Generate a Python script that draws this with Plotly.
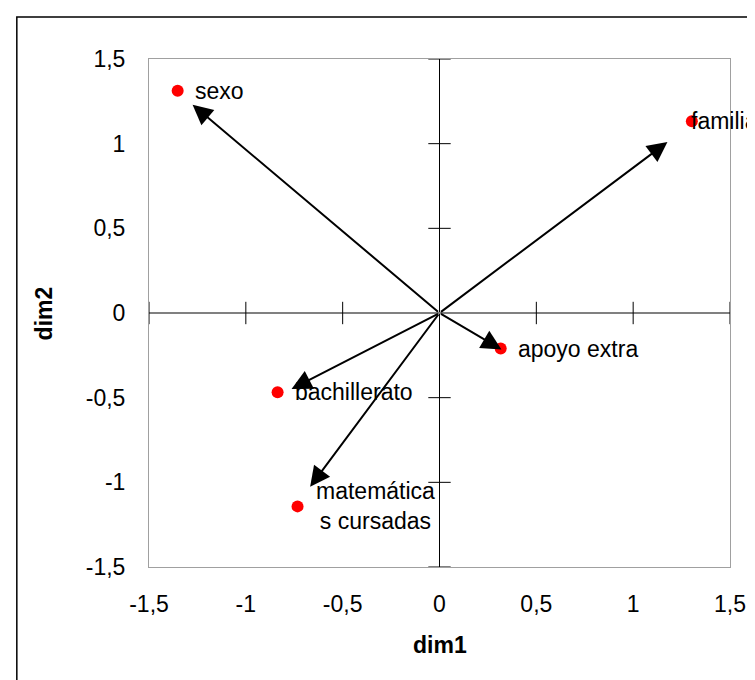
import plotly.graph_objects as go

# ---- data ----
labels = ["sexo", "familia", "apoyo extra", "bachillerato", "matemática<br>s cursadas"]
point_x = [-1.352, 1.303, 0.316, -0.836, -0.733]
point_y = [1.313, 1.132, -0.21, -0.468, -1.142]
arrow_x = [-1.275, 1.177, 0.32, -0.764, -0.668]
arrow_y = [1.23, 1.01, -0.215, -0.449, -1.026]

tick_vals = [-1.5, -1, -0.5, 0, 0.5, 1, 1.5]
tick_text = ["-1,5", "-1", "-0,5", "0", "0,5", "1", "1,5"]

label_shift = [15, -3, 15, 15, 16]

FONT = "Liberation Sans, Arial, sans-serif"
FS = 23

fig = go.Figure()

# cross tick marks on the axes through zero
nz = [v for v in tick_vals if v != 0]
fig.add_trace(go.Scatter(
    x=nz, y=[0] * len(nz), mode="markers", hoverinfo="skip",
    marker=dict(symbol="line-ns", size=16, line=dict(width=1, color="#000000")),
    cliponaxis=False, showlegend=False))
fig.add_trace(go.Scatter(
    x=[0] * len(nz), y=nz, mode="markers", hoverinfo="skip",
    marker=dict(symbol="line-ew", size=16, line=dict(width=1, color="#000000")),
    cliponaxis=False, showlegend=False))

# points
fig.add_trace(go.Scatter(
    x=point_x, y=point_y, mode="markers",
    marker=dict(size=12, color="#ff0000"),
    showlegend=False))

annotations = []
for tx, ty in zip(arrow_x, arrow_y):
    annotations.append(dict(
        x=tx, y=ty, ax=0, ay=0, xref="x", yref="y", axref="x", ayref="y",
        text="", showarrow=True, arrowhead=2, arrowsize=2, arrowwidth=2,
        arrowcolor="#000000", standoff=0, startstandoff=0))

for lab, px, py, sh in zip(labels, point_x, point_y, label_shift):
    annotations.append(dict(
        x=px, y=py, xref="x", yref="y", text=lab, showarrow=False,
        xanchor="left", yanchor="middle", xshift=sh, align="center",
        font=dict(family=FONT, size=FS, color="#000000")))

annotations.append(dict(
    x=0.5, y=-0.1535, xref="paper", yref="paper", text="<b>dim1</b>",
    showarrow=False, xanchor="center", yanchor="middle",
    font=dict(family=FONT, size=FS, color="#000000")))
annotations.append(dict(
    x=-0.18, y=0.5, xref="paper", yref="paper", text="<b>dim2</b>",
    showarrow=False, xanchor="center", yanchor="middle", textangle=-90,
    font=dict(family=FONT, size=FS, color="#000000")))

fig.update_layout(
    width=755, height=680,
    margin=dict(l=141, r=33, t=51, b=121, pad=0),
    paper_bgcolor="#ffffff", plot_bgcolor="#ffffff",
    font=dict(family=FONT, size=FS, color="#000000"),
    annotations=annotations,
    showlegend=False,
    shapes=[dict(type="rect", xref="paper", yref="paper",
                 x0=-0.2275, x1=1.2, y0=-0.4, y1=1.0827,
                 line=dict(color="#000000", width=1.5), layer="above")],
)

fig.update_xaxes(
    range=[-1.5, 1.5], tickmode="array", tickvals=tick_vals, ticktext=tick_text,
    showgrid=False, zeroline=True, zerolinecolor="#000000", zerolinewidth=1,
    showline=True, mirror=True, linecolor="#a0a0a0", linewidth=1,
    ticks="outside", ticklen=16, tickcolor="rgba(0,0,0,0)",
    tickfont=dict(family=FONT, size=FS, color="#000000"))
fig.update_yaxes(
    range=[-1.5, 1.5], tickmode="array", tickvals=tick_vals, ticktext=tick_text,
    showgrid=False, zeroline=True, zerolinecolor="#808080", zerolinewidth=2,
    showline=True, mirror=True, linecolor="#a0a0a0", linewidth=1,
    ticks="outside", ticklen=18, tickcolor="rgba(0,0,0,0)",
    tickfont=dict(family=FONT, size=FS, color="#000000"))

fig.write_html("out.html")
